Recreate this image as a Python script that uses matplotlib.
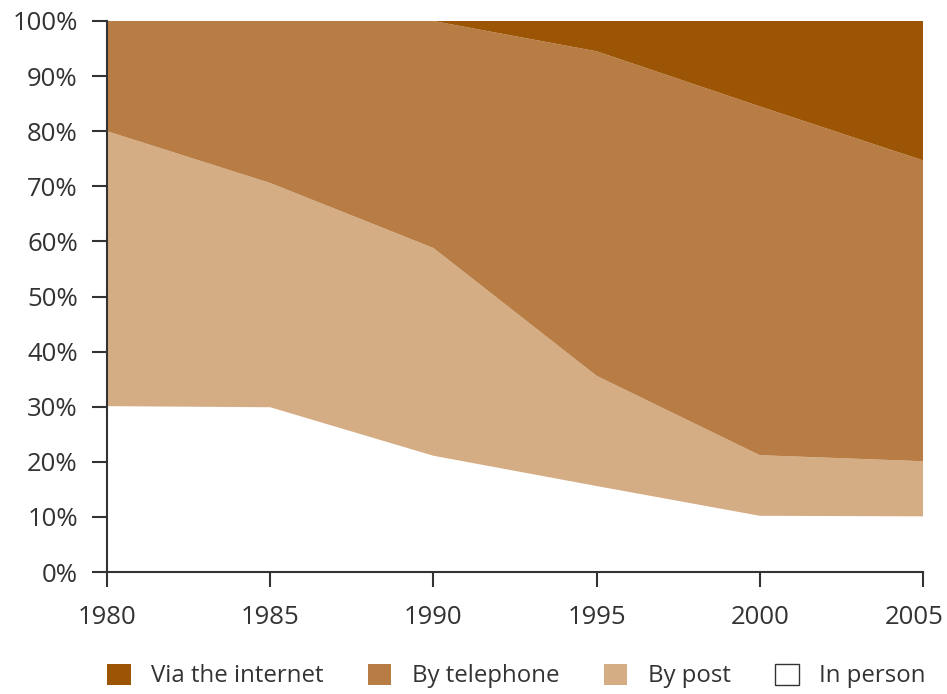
import matplotlib
matplotlib.use("Agg")
import matplotlib.pyplot as plt
from matplotlib.patches import Patch
from matplotlib.transforms import ScaledTranslation
from matplotlib.ticker import FuncFormatter

plt.rcParams['font.family'] = ['Open Sans', 'DejaVu Sans']

years = [1980, 1985, 1990, 1995, 2000, 2005]
in_person = [30.1, 29.9, 21.1, 15.6, 10.2, 10.1]
by_post = [49.9, 40.7, 37.7, 20.0, 11.0, 10.0]
by_telephone = [20.0, 29.4, 41.2, 58.9, 63.3, 54.6]
via_internet = [0.0, 0.0, 0.0, 5.5, 15.5, 25.3]

series_labels = ["In person", "By post", "By telephone", "Via the internet"]
series_colors = ["#FFFFFF", "#D5AD85", "#B87D45", "#9C5405"]

x_ticks = [1980, 1985, 1990, 1995, 2000, 2005]
y_ticks = [0, 10, 20, 30, 40, 50, 60, 70, 80, 90, 100]

text_color = "#333333"

fig = plt.figure(figsize=(9.47, 6.94), dpi=100)
ax = fig.add_axes([107 / 947, 1 - 572 / 694, (923 - 107) / 947, (572 - 21) / 694])

ax.stackplot(years, in_person, by_post, by_telephone, via_internet,
             colors=series_colors, linewidth=0)

ax.set_xlim(1980, 2005)
ax.set_ylim(0, 100)
ax.set_xticks(x_ticks)
ax.set_yticks(y_ticks)
ax.yaxis.set_major_formatter(FuncFormatter(lambda v, p: f"{int(v)}%"))

for side in ("top", "right"):
    ax.spines[side].set_visible(False)
for side in ("left", "bottom"):
    ax.spines[side].set_color(text_color)
    ax.spines[side].set_linewidth(1.5)
    ax.spines[side].set_zorder(5)

ax.tick_params(axis="both", direction="out", length=11, width=1.5,
               color=text_color, labelcolor=text_color, labelsize=18.5)
ax.tick_params(axis="y", pad=10)
ax.tick_params(axis="x", pad=13)

# keep the last year label inside the figure
last = ax.get_xticklabels()[-1]
last.set_transform(last.get_transform() + ScaledTranslation(-9 / 100, 0, fig.dpi_scale_trans))

# Legend: internet first, in person last; the white square is outlined
handles = []
for label, color in zip(series_labels[::-1], series_colors[::-1]):
    if color.upper() == "#FFFFFF":
        handles.append(Patch(facecolor=color, edgecolor=text_color, linewidth=1.0, label=label))
    else:
        handles.append(Patch(facecolor=color, edgecolor="none", label=label))

leg = fig.legend(handles=handles, loc="center left",
                 bbox_to_anchor=(107 / 947, 1 - 676 / 694), ncol=4,
                 frameon=False, fontsize=17.3, handlelength=0.98, handleheight=0.98,
                 handletextpad=0.85, columnspacing=1.85, borderpad=0, borderaxespad=0)
for t in leg.get_texts():
    t.set_color(text_color)

fig.savefig("out.png", dpi=100)
